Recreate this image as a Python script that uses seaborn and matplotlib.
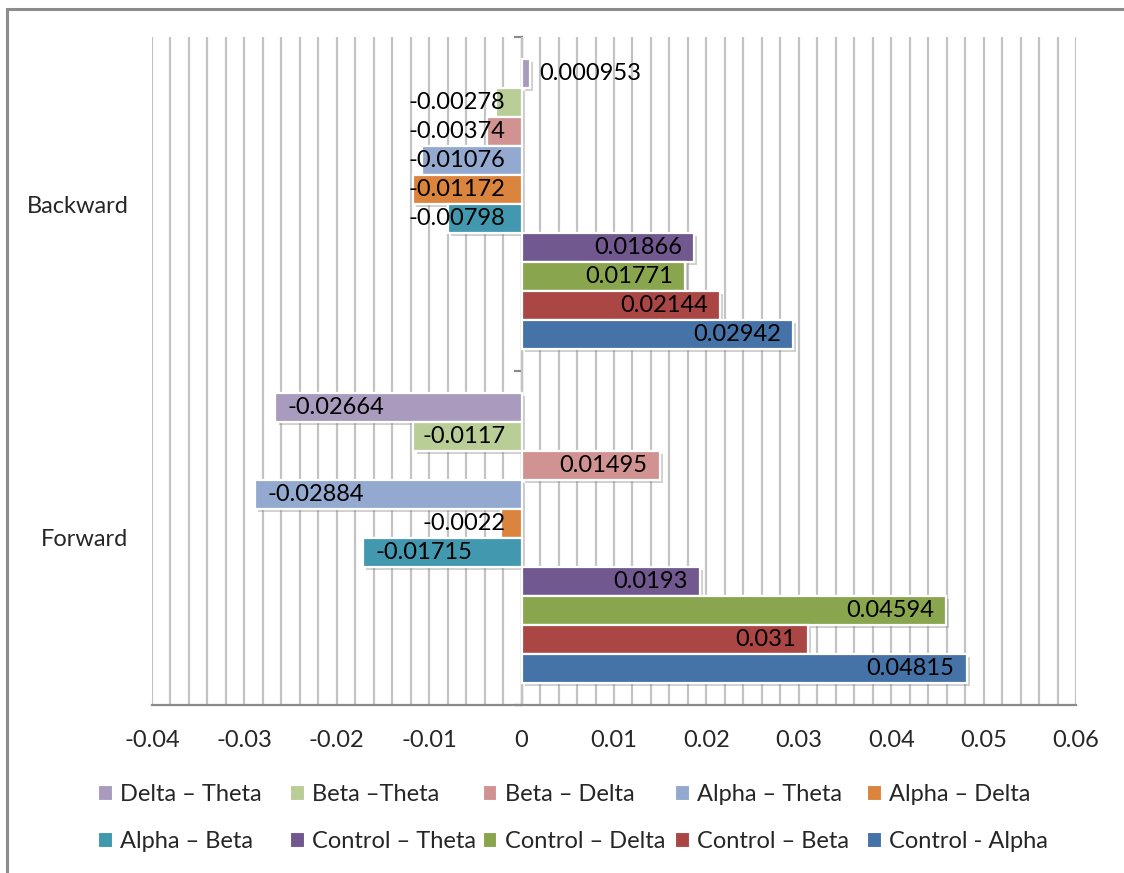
import matplotlib
matplotlib.use("Agg")
import matplotlib.pyplot as plt
import matplotlib.patheffects as pe
from matplotlib.patches import Rectangle, Patch
from matplotlib.ticker import MultipleLocator, FuncFormatter
import seaborn as sns
import pandas as pd

# Coherence differences per frequency-band pair, for each direction
directions = ["Backward", "Forward"]
pairs = ["Delta – Theta", "Beta –Theta", "Beta – Delta", "Alpha – Theta", "Alpha – Delta",
         "Alpha – Beta", "Control – Theta", "Control – Delta", "Control – Beta", "Control - Alpha"]
backward = [0.000953, -0.00278, -0.00374, -0.01076, -0.01172,
            -0.00798, 0.01866, 0.01771, 0.02144, 0.02942]
forward = [-0.02664, -0.0117, 0.01495, -0.02884, -0.0022,
           -0.01715, 0.0193, 0.04594, 0.031, 0.04815]
colors = ["#A99BBD", "#B9CD96", "#D19392", "#93A9CF", "#DB843D",
          "#4198AF", "#71588F", "#89A54E", "#AA4643", "#4572A7"]
x_min, x_max = -0.04, 0.06

sns.set_style("white")
plt.rcParams["font.family"] = ["Lato", "DejaVu Sans"]
FS = 17

df = pd.DataFrame({
    "direction": [d for d in directions for _ in pairs],
    "pair": pairs * len(directions),
    "value": backward + forward,
})

W, H = 1124, 873
fig = plt.figure(figsize=(W / 100, H / 100), dpi=100)
ax = fig.add_axes([152 / W, 1 - 705 / H, (1076 - 152) / W, (705 - 37) / H])

sns.barplot(data=df, y="direction", x="value", hue="pair", order=directions,
            hue_order=pairs, palette=colors, orient="h", width=0.87,
            edgecolor="white", linewidth=1.6, errorbar=None, legend=False,
            saturation=1, ax=ax)

shadow = [pe.SimplePatchShadow(offset=(2.2, -2.2), shadow_rgbFace="#7a7a7a", alpha=0.35),
          pe.Normal()]
for bar in ax.patches:
    bar.set_path_effects(shadow)

ax.set_xlim(x_min, x_max)
ax.set_ylim(1.5, -0.5)
ax.set_xlabel("")
ax.set_ylabel("")
ax.set_axisbelow(True)

ax.xaxis.set_major_locator(MultipleLocator(0.01))
ax.xaxis.set_minor_locator(MultipleLocator(0.002))
ax.xaxis.set_major_formatter(FuncFormatter(lambda v, _: f"{round(v, 4):g}"))
ax.grid(False)
ax.xaxis.grid(True, which="both", color="#C3C3C3", linewidth=1.6)
ax.tick_params(axis="x", which="major", length=7, width=1.6, color="#8a8a8a",
               direction="out", labelsize=FS, pad=11)
ax.tick_params(axis="x", which="minor", length=0)
ax.tick_params(axis="y", length=0, labelsize=FS, pad=17)
for side in ("top", "right", "left"):
    ax.spines[side].set_visible(False)
ax.spines["bottom"].set_color("#8a8a8a")
ax.spines["bottom"].set_linewidth(1.6)

# Category axis line drawn at zero, with boundary ticks
zero_pos = (0 - x_min) / (x_max - x_min)
sec = ax.secondary_yaxis(zero_pos)
sec.set_yticks([-0.5, 0.5, 1.5])
sec.set_yticklabels([])
sec.tick_params(length=6, width=1.6, color="#8a8a8a", direction="out")
for s in sec.spines.values():
    s.set_color("#8a8a8a")
    s.set_linewidth(1.6)

# Value labels at the bar ends
fig.canvas.draw()
renderer = fig.canvas.get_renderer()
px_per_unit = ax.transData.transform((1, 0))[0] - ax.transData.transform((0, 0))[0]
pad = 12 / px_per_unit
limit = -16 / px_per_unit
values = {"Backward": backward, "Forward": forward}
for i, cont in enumerate(ax.containers):
    for j, bar in enumerate(cont):
        v = values[directions[j]][i]
        yc = bar.get_y() + bar.get_height() / 2
        t = ax.text(0, yc, f"{v:g}", fontsize=FS, va="center", ha="left", color="black")
        w = t.get_window_extent(renderer).width / px_per_unit
        if v >= 0:
            if v >= w + 2 * pad:
                t.set_x(v - pad)
                t.set_ha("right")
            else:
                t.set_x(v + pad * 0.7)
        else:
            left = v + pad
            if left + w > limit:
                t.set_x(limit)
                t.set_ha("right")
            else:
                t.set_x(left)

# Legend: five evenly spaced columns, two rows
handles = [Patch(facecolor=c, edgecolor="white", linewidth=0.8) for c in colors]
for col in range(5):
    idx = [col, col + 5]
    leg = fig.legend([handles[k] for k in idx], [pairs[k] for k in idx],
                     loc="upper left",
                     bbox_to_anchor=((98 + 192.3 * col) / W, 1 - 784 / H),
                     frameon=False, fontsize=FS, handlelength=0.58, handleheight=0.58,
                     handletextpad=0.35, borderpad=0, borderaxespad=0,
                     labelspacing=1.1)

# Outer frame
fig.patches.append(Rectangle((7 / W, -0.05), 1.2, 1 - 9 / H + 0.05,
                             transform=fig.transFigure, fill=False,
                             edgecolor="#8c8c8c", linewidth=2.2))

fig.savefig("out.png", dpi=100)
